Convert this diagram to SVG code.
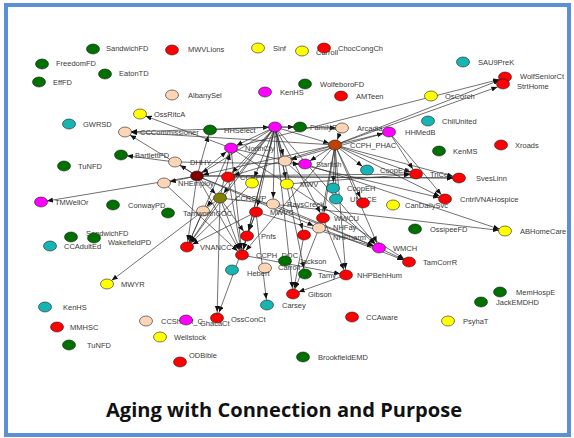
<svg xmlns="http://www.w3.org/2000/svg" width="574" height="438" viewBox="0 0 574 438">
<defs>
<marker id="ar" markerUnits="userSpaceOnUse" markerWidth="8" markerHeight="6" refX="12" refY="2.5" orient="auto"><path d="M0,0 L6,2.5 L0,5 z" fill="#111"/></marker>
<style>
.e line{stroke:#333;stroke-width:0.7;marker-end:url(#ar)}
ellipse{stroke:#222;stroke-width:0.6}
.g{fill:#007000}.r{fill:#ff0000}.y{fill:#ffff00}.m{fill:#ff00ff}.p{fill:#fbd5b5}.c{fill:#17b4b4}.dr{fill:#800000}.br{fill:#c04000}.ol{fill:#808000}
text{font-family:"Liberation Sans",Arial,sans-serif;font-size:7.5px;fill:#3a3a3a}
.t{font-family:"Open Sans","Liberation Sans",sans-serif;font-size:19.5px;font-weight:bold;fill:#111}
</style>
</defs>
<rect x="0" y="0" width="574" height="438" fill="#fff"/>
<rect x="6" y="5" width="563" height="430" fill="none" stroke="#5b8fd6" stroke-width="4"/>
<g class="e">
<line x1="275" y1="127" x2="197" y2="176"/><line x1="275" y1="127" x2="220" y2="198"/><line x1="275" y1="127" x2="187" y2="247"/><line x1="275" y1="127" x2="242" y2="255"/><line x1="275" y1="127" x2="256" y2="212"/><line x1="275" y1="127" x2="247" y2="236"/><line x1="275" y1="127" x2="293" y2="294"/><line x1="275" y1="127" x2="304" y2="235"/><line x1="275" y1="127" x2="323" y2="218"/><line x1="275" y1="127" x2="379" y2="248"/><line x1="275" y1="127" x2="285" y2="161"/><line x1="275" y1="127" x2="228" y2="177"/><line x1="275" y1="127" x2="252" y2="183"/><line x1="275" y1="127" x2="231" y2="148"/><line x1="275" y1="127" x2="203" y2="211"/><line x1="275" y1="127" x2="287" y2="184"/><line x1="275" y1="127" x2="273" y2="204"/><line x1="210" y1="130" x2="275" y2="127"/><line x1="275" y1="127" x2="300" y2="127"/><line x1="275" y1="127" x2="342" y2="128"/><line x1="275" y1="127" x2="335" y2="145"/><line x1="275" y1="127" x2="305" y2="274"/><line x1="275" y1="127" x2="125" y2="132"/>
<line x1="335" y1="145" x2="389" y2="132"/><line x1="342" y1="128" x2="335" y2="145"/><line x1="335" y1="145" x2="305" y2="164"/><line x1="335" y1="145" x2="367" y2="170"/><line x1="335" y1="145" x2="333" y2="188"/><line x1="335" y1="145" x2="336" y2="199"/><line x1="335" y1="145" x2="363" y2="203"/><line x1="335" y1="145" x2="416" y2="174"/><line x1="335" y1="145" x2="459" y2="178"/><line x1="335" y1="145" x2="445" y2="199"/><line x1="335" y1="145" x2="323" y2="218"/><line x1="335" y1="145" x2="319" y2="228"/><line x1="335" y1="145" x2="379" y2="248"/><line x1="335" y1="145" x2="346" y2="275"/><line x1="335" y1="145" x2="505" y2="78"/><line x1="335" y1="145" x2="503" y2="85"/><line x1="335" y1="145" x2="197" y2="176"/><line x1="335" y1="145" x2="228" y2="177"/><line x1="335" y1="145" x2="125" y2="132"/><line x1="335" y1="145" x2="242" y2="255"/>
<line x1="197" y1="176" x2="41" y2="202"/><line x1="197" y1="176" x2="175" y2="162"/><line x1="197" y1="176" x2="164" y2="183"/><line x1="197" y1="176" x2="187" y2="247"/><line x1="197" y1="176" x2="231" y2="148"/><line x1="197" y1="176" x2="220" y2="198"/><line x1="197" y1="176" x2="416" y2="174"/><line x1="197" y1="176" x2="459" y2="178"/><line x1="197" y1="176" x2="319" y2="228"/><line x1="197" y1="176" x2="379" y2="248"/><line x1="197" y1="176" x2="210" y2="130"/><line x1="197" y1="176" x2="125" y2="132"/><line x1="197" y1="176" x2="242" y2="255"/><line x1="175" y1="162" x2="121" y2="155"/>
<line x1="220" y1="198" x2="107" y2="284"/><line x1="220" y1="198" x2="217" y2="318"/><line x1="220" y1="198" x2="187" y2="247"/><line x1="220" y1="198" x2="242" y2="255"/><line x1="220" y1="198" x2="231" y2="148"/><line x1="220" y1="198" x2="247" y2="236"/><line x1="220" y1="198" x2="505" y2="231"/>
<line x1="231" y1="148" x2="187" y2="247"/><line x1="231" y1="148" x2="242" y2="255"/><line x1="231" y1="148" x2="505" y2="78"/><line x1="231" y1="148" x2="140" y2="114"/><line x1="231" y1="148" x2="409" y2="262"/><line x1="231" y1="148" x2="445" y2="199"/>
<line x1="389" y1="132" x2="445" y2="199"/><line x1="389" y1="132" x2="416" y2="174"/><line x1="389" y1="132" x2="285" y2="161"/>
<line x1="305" y1="164" x2="505" y2="231"/><line x1="379" y1="248" x2="409" y2="262"/><line x1="319" y1="228" x2="409" y2="262"/><line x1="285" y1="161" x2="379" y2="248"/>
<line x1="242" y1="255" x2="346" y2="275"/><line x1="256" y1="212" x2="247" y2="236"/><line x1="256" y1="212" x2="267" y2="305"/><line x1="256" y1="212" x2="217" y2="318"/><line x1="346" y1="275" x2="293" y2="294"/><line x1="304" y1="235" x2="293" y2="294"/><line x1="323" y1="218" x2="293" y2="294"/><line x1="247" y1="236" x2="242" y2="255"/><line x1="203" y1="211" x2="187" y2="247"/><line x1="256" y1="212" x2="187" y2="247"/><line x1="228" y1="177" x2="242" y2="255"/><line x1="252" y1="183" x2="187" y2="247"/><line x1="287" y1="184" x2="416" y2="174"/><line x1="228" y1="177" x2="459" y2="178"/><line x1="273" y1="204" x2="379" y2="248"/><line x1="256" y1="212" x2="379" y2="248"/><line x1="323" y1="218" x2="346" y2="275"/><line x1="164" y1="183" x2="242" y2="255"/><line x1="175" y1="162" x2="305" y2="164"/>
</g>
<g id="SandwichFD"><ellipse class="g" cx="93" cy="49" rx="6.5" ry="5"/><text x="106" y="51">SandwichFD</text></g>
<g id="MWVLions"><ellipse class="r" cx="172" cy="50" rx="6.5" ry="5"/><text x="188" y="52">MWVLions</text></g>
<g id="Sinf"><ellipse class="y" cx="258" cy="48" rx="6.5" ry="5"/><text x="273" y="51">Sinf</text></g>
<g id="Carroll"><ellipse class="y" cx="302" cy="51" rx="6.5" ry="5"/><text x="316" y="55">Carroll</text></g>
<g id="ChocCongCh"><ellipse class="r" cx="324" cy="48" rx="6.5" ry="5"/><text x="338" y="51">ChocCongCh</text></g>
<g id="FreedomFD"><ellipse class="g" cx="42" cy="64" rx="6.5" ry="5"/><text x="56" y="66">FreedomFD</text></g>
<g id="EatonTD"><ellipse class="g" cx="105" cy="74" rx="6.5" ry="5"/><text x="119" y="76">EatonTD</text></g>
<g id="EffFD"><ellipse class="g" cx="39" cy="82" rx="6.5" ry="5"/><text x="53" y="85">EffFD</text></g>
<g id="AlbanySel"><ellipse class="p" cx="172" cy="95" rx="6.5" ry="5"/><text x="188" y="98">AlbanySel</text></g>
<g id="WolfeboroFD"><ellipse class="g" cx="305" cy="84" rx="6.5" ry="5"/><text x="320" y="87">WolfeboroFD</text></g>
<g id="KenHS1"><ellipse class="m" cx="265" cy="92" rx="6.5" ry="5"/><text x="280" y="95">KenHS</text></g>
<g id="AMTeen"><ellipse class="r" cx="341" cy="96" rx="6.5" ry="5"/><text x="356" y="99">AMTeen</text></g>
<g id="SAU9PreK"><ellipse class="c" cx="463" cy="62" rx="6.5" ry="5"/><text x="478" y="65">SAU9PreK</text></g>
<g id="WolfSeniorCt"><ellipse class="r" cx="505" cy="77" rx="6.5" ry="5"/><text x="520" y="79">WolfSeniorCt</text></g>
<g id="StrtHome"><ellipse class="r" cx="503" cy="84" rx="6.5" ry="5"/><text x="517" y="89">StrtHome</text></g>
<g id="OssCh"><ellipse class="y" cx="431" cy="96" rx="6.5" ry="5"/><text x="445" y="99">OsCorch</text></g>
<g id="ChilUnited"><ellipse class="c" cx="428" cy="121" rx="6.5" ry="5"/><text x="442" y="124">ChilUnited</text></g>
<g id="HHMedB"><ellipse class="m" cx="389" cy="132" rx="6.5" ry="5"/><text x="405" y="135">HHMedB</text></g>
<g id="OssRitcA"><ellipse class="y" cx="140" cy="114" rx="6.5" ry="5"/><text x="154" y="117">OssRitcA</text></g>
<g id="GWRSD"><ellipse class="c" cx="69" cy="124" rx="6.5" ry="5"/><text x="83" y="127">GWRSD</text></g>
<g id="CCCommissioner"><ellipse class="p" cx="125" cy="132" rx="6.5" ry="5"/><text x="140" y="135">CCCommissioner</text></g>
<g id="BartlettPD"><ellipse class="g" cx="121" cy="155" rx="6.5" ry="5"/><text x="135" y="158">BartlettPD</text></g>
<g id="TuNFD1"><ellipse class="g" cx="64" cy="166" rx="6.5" ry="5"/><text x="78" y="169">TuNFD</text></g>
<g id="KenMS"><ellipse class="g" cx="439" cy="151" rx="6.5" ry="5"/><text x="453" y="154">KenMS</text></g>
<g id="Xroads"><ellipse class="r" cx="501" cy="145" rx="6.5" ry="5"/><text x="515" y="148">Xroads</text></g>
<g id="TMWellOr"><ellipse class="m" cx="41" cy="202" rx="6.5" ry="5"/><text x="55" y="205">TMWellOr</text></g>
<g id="ConwayPD"><ellipse class="g" cx="113" cy="205" rx="6.5" ry="5"/><text x="128" y="208">ConwayPD</text></g>
<g id="CntrlVNAHospice"><ellipse class="r" cx="445" cy="199" rx="6.5" ry="5"/><text x="460" y="202">CntrlVNAHospice</text></g>
<g id="ABHomeCare"><ellipse class="y" cx="505" cy="231" rx="6.5" ry="5"/><text x="520" y="234">ABHomeCare</text></g>
<g id="OssipeeFD"><ellipse class="g" cx="415" cy="229" rx="6.5" ry="5"/><text x="430" y="232">OssipeeFD</text></g>
<g id="TamCorrR"><ellipse class="r" cx="409" cy="262" rx="6.5" ry="5"/><text x="423" y="265">TamCorrR</text></g>
<g id="MemHospE"><ellipse class="g" cx="500" cy="292" rx="6.5" ry="5"/><text x="516" y="295">MemHospE</text></g>
<g id="JackEMDHD"><ellipse class="g" cx="481" cy="302" rx="6.5" ry="5"/><text x="496" y="305">JackEMDHD</text></g>
<g id="PsyhaT"><ellipse class="y" cx="448" cy="321" rx="6.5" ry="5"/><text x="463" y="324">PsyhaT</text></g>
<g id="CCAware"><ellipse class="r" cx="352" cy="317" rx="6.5" ry="5"/><text x="366" y="320">CCAware</text></g>
<g id="BrookfieldEMD"><ellipse class="g" cx="303" cy="357" rx="6.5" ry="5"/><text x="318" y="360">BrookfieldEMD</text></g>
<g id="KenHS2"><ellipse class="c" cx="45" cy="307" rx="6.5" ry="5"/><text x="63" y="310">KenHS</text></g>
<g id="MMHSC"><ellipse class="r" cx="57" cy="327" rx="6.5" ry="5"/><text x="70" y="330">MMHSC</text></g>
<g id="TuNFD2"><ellipse class="g" cx="69" cy="345" rx="6.5" ry="5"/><text x="87" y="348">TuNFD</text></g>
<g id="CCSheriff"><ellipse class="p" cx="146" cy="321" rx="6.5" ry="5"/><text x="161" y="324">CCSheriff_C</text></g>
<g id="CharlieCt"><ellipse class="m" cx="186" cy="320" rx="6.5" ry="5"/><text x="200" y="326">GhacaCt</text></g>
<g id="Wellstock"><ellipse class="y" cx="160" cy="337" rx="6.5" ry="5"/><text x="174" y="340">Wellstock</text></g>
<g id="ODBible"><ellipse class="r" cx="180" cy="362" rx="6.5" ry="5"/><text x="189" y="358">ODBible</text></g>
<g id="CCAdultEd"><ellipse class="c" cx="50" cy="246" rx="6.5" ry="5"/><text x="64" y="249">CCAdultEd</text></g>
<g id="SandwichFD2"><ellipse class="g" cx="71" cy="237" rx="6.5" ry="5"/><text x="86" y="236">SandwichFD</text></g>
<g id="WakefieldPD"><ellipse class="g" cx="94" cy="238" rx="6.5" ry="5"/><text x="108" y="245">WakefieldPD</text></g>
<g id="MWYR"><ellipse class="y" cx="107" cy="284" rx="6.5" ry="5"/><text x="121" y="287">MWYR</text></g>
<g id="HHSelect"><ellipse class="g" cx="210" cy="130" rx="6.5" ry="5"/><text x="224" y="133">HHSelect</text></g>
<g id="HubA"><ellipse class="m" cx="275" cy="127" rx="6.5" ry="5"/></g>
<g id="FamilySvc"><ellipse class="g" cx="300" cy="127" rx="6.5" ry="5"/><text x="310" y="130">FamilySvc</text></g>
<g id="Arca"><ellipse class="p" cx="342" cy="128" rx="6.5" ry="5"/><text x="357" y="131">Arcadia</text></g>
<g id="MagB"><ellipse class="m" cx="231" cy="148" rx="6.5" ry="5"/><text x="245" y="151">NorthCty</text></g>
<g id="CCPH_PHAC"><ellipse class="br" cx="335" cy="145" rx="6.5" ry="5"/><text x="350" y="148">CCPH_PHAC</text></g>
<g id="PeachC"><ellipse class="p" cx="285" cy="161" rx="6.5" ry="5"/></g>
<g id="MagD"><ellipse class="m" cx="305" cy="164" rx="6.5" ry="5"/><text x="316" y="167">Starfish</text></g>
<g id="CyanE"><ellipse class="c" cx="367" cy="170" rx="6.5" ry="5"/><text x="380" y="173">CoopExt</text></g>
<g id="DHHY"><ellipse class="dr" cx="197" cy="176" rx="6.5" ry="5"/></g>
<g id="CCEP"><ellipse class="r" cx="228" cy="177" rx="6.5" ry="5"/><text x="240" y="180">CCEP</text></g>
<g id="Y13"><ellipse class="y" cx="252" cy="183" rx="6.5" ry="5"/></g>
<g id="MWV"><ellipse class="y" cx="287" cy="184" rx="6.5" ry="5"/><text x="300" y="187">MWV</text></g>
<g id="Coop"><ellipse class="c" cx="333" cy="188" rx="6.5" ry="5"/><text x="347" y="191">CoopEH</text></g>
<g id="Olive"><ellipse class="ol" cx="220" cy="198" rx="6.5" ry="5"/><text x="235" y="201">CCRSVP</text></g>
<g id="UNH"><ellipse class="c" cx="336" cy="199" rx="6.5" ry="5"/><text x="350" y="202">UNHCE</text></g>
<g id="R18"><ellipse class="r" cx="363" cy="203" rx="6.5" ry="5"/></g>
<g id="CanDailySvc"><ellipse class="y" cx="393" cy="205" rx="6.5" ry="5"/><text x="405" y="208">CanDailySvc</text></g>
<g id="Tamworth"><ellipse class="p" cx="203" cy="211" rx="6.5" ry="5"/><text x="183" y="216">TamworthCOC</text></g>
<g id="RaysCreek"><ellipse class="p" cx="273" cy="204" rx="6.5" ry="5"/><text x="287" y="207">RaysCreek</text></g>
<g id="MWVC"><ellipse class="r" cx="256" cy="212" rx="6.5" ry="5"/><text x="270" y="215">MWVC</text></g>
<g id="WWCU"><ellipse class="r" cx="323" cy="218" rx="6.5" ry="5"/><text x="334" y="221">WWCU</text></g>
<g id="NHFay"><ellipse class="p" cx="319" cy="228" rx="6.5" ry="5"/><text x="333" y="230">NHFay</text></g>
<g id="NHPharm"><ellipse class="r" cx="304" cy="235" rx="6.5" ry="5"/><text x="333" y="240">NHPharm</text></g>
<g id="Pnfs"><ellipse class="r" cx="247" cy="236" rx="6.5" ry="5"/><text x="261" y="239">Pnfs</text></g>
<g id="WMCH"><ellipse class="m" cx="379" cy="248" rx="6.5" ry="5"/><text x="393" y="251">WMCH</text></g>
<g id="VNANCC"><ellipse class="r" cx="187" cy="247" rx="6.5" ry="5"/><text x="200" y="250">VNANCC</text></g>
<g id="CCPH_DOC"><ellipse class="r" cx="242" cy="255" rx="6.5" ry="5"/><text x="256" y="258">CCPH_DOC</text></g>
<g id="Jackson"><ellipse class="g" cx="285" cy="261" rx="6.5" ry="5"/><text x="299" y="264">Jackson</text></g>
<g id="C31"><ellipse class="c" cx="232" cy="270" rx="6.5" ry="5"/></g>
<g id="Hebert"><ellipse class="p" cx="265" cy="268" rx="6.5" ry="5"/><text x="247" y="276">Hebert</text></g>
<g id="TamYouth"><ellipse class="g" cx="305" cy="274" rx="6.5" ry="5"/><text x="278" y="270">Carroll</text><text x="318" y="278">Tamy</text></g>
<g id="NHPBehHum"><ellipse class="r" cx="346" cy="275" rx="6.5" ry="5"/><text x="357" y="278">NHPBehHum</text></g>
<g id="Gibson"><ellipse class="r" cx="293" cy="294" rx="6.5" ry="5"/><text x="308" y="297">Gibson</text></g>
<g id="Carsey"><ellipse class="c" cx="267" cy="305" rx="6.5" ry="5"/><text x="282" y="308">Carsey</text></g>
<g id="OssConCt"><ellipse class="r" cx="217" cy="318" rx="6.5" ry="5"/><text x="231" y="322">OssConCt</text></g>
<g id="TriCo"><ellipse class="r" cx="416" cy="174" rx="6.5" ry="5"/><text x="430" y="177">TriCo</text></g>
<g id="XvesLinn"><ellipse class="r" cx="459" cy="178" rx="6.5" ry="5"/><text x="476" y="181">SvesLinn</text></g>
<g id="NHDHHS"><ellipse class="p" cx="164" cy="183" rx="6.5" ry="5"/><text x="178" y="186">NHEmploy</text></g>
<g id="DHHY2"><ellipse class="p" cx="175" cy="162" rx="6.5" ry="5"/><text x="190" y="165">DHHY</text></g>
<g id="Tam52"><ellipse class="g" cx="168" cy="213" rx="6.5" ry="5"/></g>
<text class="t" x="284" y="417" text-anchor="middle" textLength="356" lengthAdjust="spacingAndGlyphs">Aging with Connection and Purpose</text>
</svg>
